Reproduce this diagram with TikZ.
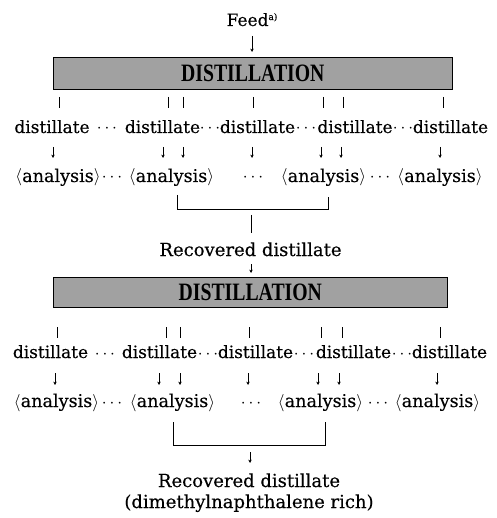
\documentclass[tikz,border=0pt]{standalone}
\usepackage{fontspec}
\setmainfont[FakeBold=0.35]{DejaVu Serif}
\newfontfamily\boxfont{Liberation Serif}
\usetikzlibrary{arrows.meta}
\begin{document}
\begin{tikzpicture}[x=1pt,y=-1pt,
  txt/.style={inner sep=0pt, anchor=base, font=\fontsize{17}{20}\selectfont},
  ana/.style={txt, font=\fontsize{17.6}{20}\selectfont},
  big/.style={txt, font=\fontsize{18}{21}\selectfont},
  arr/.style={line width=0.75pt,-{Stealth[length=3.4pt,width=3.4pt]}},
  tick/.style={line width=0.85pt},
  brk/.style={line width=0.75pt},
  boxst/.style={draw, line width=0.6pt, fill=black!37, inner sep=0pt, anchor=north west}]
\useasboundingbox (0,0) rectangle (496,518);

% ---------- top ----------
\node[txt] (feed) at (252,26) {Feed\raisebox{6pt}{\fontsize{9}{10}\selectfont a)}};
\node[boxst, minimum width=399pt, minimum height=32pt] (box1) at (53,57)
  {\scalebox{0.79}[1]{\boxfont\bfseries\fontsize{25}{28}\selectfont DISTILLATION}};
\draw[line width=1.6pt] (box1.south west) -- (box1.south east) -- (box1.north east);
\coordinate (fa) at (252,36);
\coordinate (fa2) at (252,52);
\draw[arr] (fa) -- (fa2);

% ticks row 1
\foreach \x in {59,168,183,253,323,343,443} \draw[tick] (\x,97) -- (\x,108);

% distillate row 1
\node[txt] (d11) at (52,133) {distillate};
\node[txt] (c11) at (107,133) {$\cdots$};
\node[txt] (d12) at (162.5,133) {distillate};
\node[txt] (c12) at (210,133) {$\cdots$};
\node[txt] (d13) at (257.5,133) {distillate};
\node[txt] (c13) at (306,133) {$\cdots$};
\node[txt] (d14) at (355,133) {distillate};
\node[txt] (c14) at (403,133) {$\cdots$};
\node[txt] (d15) at (450.5,133) {distillate};

% arrows row 1
\foreach \x in {53,163,183,252,321,341,440} \draw[arr] (\x,147) -- (\x,158);

% analysis row 1
\node[ana] (a11) at (58,182) {$\langle$analysis$\rangle$};
\node[txt] (e11) at (112,182) {$\cdots$};
\node[ana] (a12) at (171.5,182) {$\langle$analysis$\rangle$};
\node[txt] (e12) at (253,182) {$\cdots$};
\node[ana] (a13) at (323.5,182) {$\langle$analysis$\rangle$};
\node[txt] (e13) at (380,182) {$\cdots$};
\node[ana] (a14) at (440,182) {$\langle$analysis$\rangle$};

% bracket 1
\draw[brk] (177,195) |- (328,209) -- (328,197);
\draw[brk] (251,215) -- (251,233);
\node[big] (rec1) at (250.5,256) {Recovered distillate};

% ---------- bottom ----------
\coordinate (fb) at (251,264);
\coordinate (fb2) at (251,273);
\draw[arr] (fb) -- (fb2);
\node[boxst, minimum width=394pt, minimum height=30pt] (box2) at (53,277)
  {\scalebox{0.79}[1]{\boxfont\bfseries\fontsize{25}{28}\selectfont DISTILLATION}};
\draw[line width=1.6pt] (box2.south west) -- (box2.south east) -- (box2.north east);

\foreach \x in {57,166,180,249,321,342,440} \draw[tick] (\x,327) -- (\x,338);

\node[txt] (d21) at (50.5,358) {distillate};
\node[txt] (c21) at (105,358) {$\cdots$};
\node[txt] (d22) at (159.5,358) {distillate};
\node[txt] (c22) at (208,358) {$\cdots$};
\node[txt] (d23) at (255.5,358) {distillate};
\node[txt] (c23) at (304,358) {$\cdots$};
\node[txt] (d24) at (353.5,358) {distillate};
\node[txt] (c24) at (402,358) {$\cdots$};
\node[txt] (d25) at (449.5,358) {distillate};

\foreach \x in {55,159,180,248,318,339,437} \draw[arr] (\x,373) -- (\x,385);

\node[ana] (a21) at (56.5,407) {$\langle$analysis$\rangle$};
\node[txt] (e21) at (112,407) {$\cdots$};
\node[ana] (a22) at (172.5,407) {$\langle$analysis$\rangle$};
\node[txt] (e22) at (251,407) {$\cdots$};
\node[ana] (a23) at (320.5,407) {$\langle$analysis$\rangle$};
\node[txt] (e23) at (378,407) {$\cdots$};
\node[ana] (a24) at (437.5,407) {$\langle$analysis$\rangle$};

\draw[brk] (173,422) |- (325,445) -- (325,422);
\coordinate (fc) at (250,452);
\coordinate (fc2) at (250,463);
\draw[arr] (fc) -- (fc2);
\node[big] (rec2) at (249,487) {Recovered distillate};
\node[big] (rich) at (249,508) {(dimethylnaphthalene rich)};
\end{tikzpicture}
\end{document}
